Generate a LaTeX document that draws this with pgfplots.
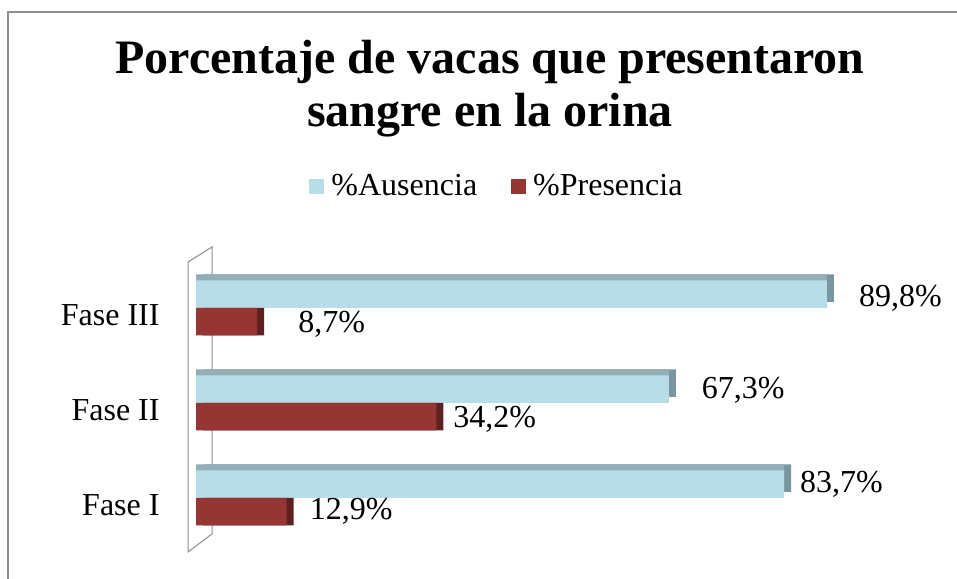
\documentclass[border=0pt]{standalone}
\usepackage{fontspec}
\setmainfont{Liberation Serif}
\usepackage{pgfplots}
\usepackage{pgfplotstable}
\pgfplotsset{compat=1.18}

\definecolor{azul}{HTML}{B7DEE8}
\definecolor{azultop}{HTML}{93AEB6}
\definecolor{azullado}{HTML}{7896A0}
\definecolor{rojo}{HTML}{963634}
\definecolor{rojolado}{HTML}{5E2120}
\definecolor{marco}{HTML}{8E8E8E}

% pos: 0 = Fase I, 1 = Fase II, 2 = Fase III; gap/dy place the value labels
\pgfplotstableread{
pos val gap dy
0 83.7 16 0
1 67.3 33 -1
2 89.8 32 -4
}\ausencia
\pgfplotstableread{
pos val gap dy
0 12.9 23 0
1 34.2 17 -3
2 8.7 41 -3
}\presencia

\begin{document}
\begin{tikzpicture}[x=1bp,y=1bp]
\useasboundingbox (0,0) rectangle (957,579);
\draw[marco, line width=1.5bp] (8,567) rectangle (1000,-40);

\node[anchor=base, font=\fontsize{48bp}{53bp}\selectfont\bfseries] at (490,505) {Porcentaje de vacas que presentaron};
\node[anchor=base, font=\fontsize{48bp}{53bp}\selectfont\bfseries] at (490,452) {sangre en la orina};

% back wall
\draw[marco, line width=1bp] (212,45) -- (188,27) -- (188,317) -- (212,332) -- cycle;

\begin{axis}[
  at={(196bp,9.75bp)}, anchor=south west, scale only axis,
  width=702.5bp, height=332.5bp,
  xmin=0, xmax=100, ymin=-0.75, ymax=2.75,
  xbar, bar width=27.5bp,
  axis line style={draw=none}, tick style={draw=none},
  xtick=\empty, ytick={0,1,2}, yticklabels={Fase I,Fase II,Fase III},
  yticklabel style={font=\fontsize{32bp}{38bp}\selectfont, anchor=east, inner sep=0pt, xshift=-32bp, yshift=-7bp},
  clip=false,
  legend columns=2,
  legend style={at={(0.427,1.1526)}, anchor=center, draw=none, fill=none,
    font=\fontsize{32bp}{38bp}\selectfont, inner sep=0pt, nodes={inner sep=0pt},
    /tikz/every odd column/.append style={column sep=7bp},
    /tikz/every even column/.append style={column sep=34bp}},
  legend image code/.code={\fill[#1] (0bp,-7.5bp) rectangle (15bp,7.5bp);},
  point meta=x,
  visualization depends on={\thisrow{gap} \as \lgap},
  visualization depends on={\thisrow{dy} \as \ldy},
  every node near coord/.append style={anchor=west, inner sep=0pt,
    xshift=\lgap*1bp, yshift=\ldy*1bp, font=\fontsize{32bp}{38bp}\selectfont, text=black},
]
\addplot[forget plot, draw=none, fill=azullado, bar shift=13.75bp, xshift=7bp, yshift=6bp] table[x=val,y=pos]{\ausencia};
\addplot[forget plot, draw=none, fill=azultop, bar shift=13.75bp, yshift=6bp] table[x=val,y=pos]{\ausencia};
\addplot[draw=none, fill=azul, bar shift=13.75bp,
  nodes near coords={\pgfmathprintnumber[fixed,fixed zerofill,precision=1,use comma,assume math mode=true]{\pgfplotspointmeta}\%}]
  table[x=val,y=pos]{\ausencia};
\addlegendentry{\%Ausencia}
\addplot[forget plot, draw=none, fill=rojolado, bar shift=-13.75bp, xshift=7bp] table[x=val,y=pos]{\presencia};
\addplot[draw=none, fill=rojo, bar shift=-13.75bp,
  nodes near coords={\pgfmathprintnumber[fixed,fixed zerofill,precision=1,use comma,assume math mode=true]{\pgfplotspointmeta}\%}]
  table[x=val,y=pos]{\presencia};
\addlegendentry{\%Presencia}
\end{axis}
\end{tikzpicture}
\end{document}
